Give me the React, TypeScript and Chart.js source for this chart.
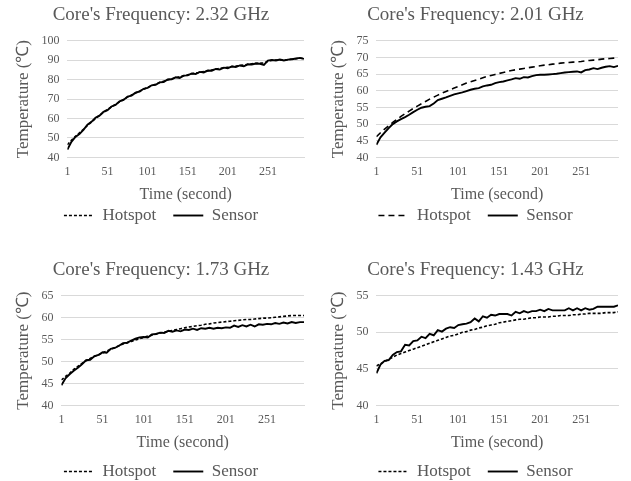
import React, { useEffect, useRef } from "react";
import { Chart, registerables } from "chart.js";
Chart.register(...registerables);

const TIME = [1, 6, 11, 16, 21, 26, 31, 36, 41, 46, 51, 56, 61, 66, 71, 76, 81, 86, 91, 96, 101, 106, 111, 116, 121, 126, 131, 136, 141, 146, 151, 156, 161, 166, 171, 176, 181, 186, 191, 196, 201, 206, 211, 216, 221, 226, 231, 236, 241, 246, 251, 256, 261, 266, 271, 276, 281, 286, 291, 296];
const X_TICKS = [1, 51, 101, 151, 201, 251];
const SERIES = ["Hotspot", "Sensor"];
const TITLES = ["Core's Frequency: 2.32 GHz", "Core's Frequency: 2.01 GHz", "Core's Frequency: 1.73 GHz", "Core's Frequency: 1.43 GHz"];
const X_TITLE = "Time (second)";
const Y_TITLE = "Temperature (℃)";

const HOT_232 = [46.5, 48.8, 50.8, 52.6, 54.5, 56.4, 58.2, 60.0, 61.6, 63.2, 64.7, 66.0, 67.3, 68.6, 69.8, 71.0, 72.1, 73.1, 74.1, 75.1, 76.0, 76.9, 77.7, 78.5, 79.2, 79.9, 80.5, 81.0, 81.5, 82.0, 82.5, 83.0, 83.4, 83.8, 84.2, 84.6, 85.0, 85.4, 85.8, 86.1, 86.4, 86.7, 87.0, 87.3, 87.6, 87.9, 88.2, 88.4, 88.5, 88.6, 89.5, 90.0, 90.1, 90.2, 90.1, 90.3, 90.6, 90.8, 91.0, 90.9];
const SEN_232 = [44.0, 48.0, 50.5, 52.0, 54.2, 56.8, 58.3, 60.4, 61.5, 63.4, 64.3, 66.2, 67.0, 68.9, 69.6, 71.3, 71.8, 73.3, 73.9, 75.3, 75.8, 77.1, 77.4, 78.6, 78.8, 80.1, 80.2, 81.2, 80.9, 82.1, 82.2, 83.2, 82.9, 84.0, 83.7, 84.7, 84.6, 85.5, 85.2, 86.2, 85.9, 86.8, 86.5, 87.3, 86.9, 87.9, 87.8, 88.3, 88.2, 87.6, 89.8, 90.1, 89.9, 90.4, 89.9, 90.3, 90.5, 90.9, 91.2, 90.7];

const HOT_201 = [46.2, 47.4, 48.5, 49.5, 50.5, 51.4, 52.3, 53.1, 53.9, 54.7, 55.4, 56.1, 56.8, 57.5, 58.1, 58.7, 59.3, 59.8, 60.3, 60.8, 61.3, 61.8, 62.3, 62.7, 63.1, 63.5, 63.9, 64.3, 64.6, 64.9, 65.2, 65.5, 65.8, 66.1, 66.3, 66.5, 66.7, 66.9, 67.1, 67.3, 67.5, 67.7, 67.8, 68.0, 68.1, 68.3, 68.4, 68.5, 68.6, 68.7, 68.8, 69.0, 69.1, 69.2, 69.3, 69.5, 69.6, 69.7, 69.8, 69.9];
const SEN_201 = [43.8, 46.0, 47.4, 48.8, 50.0, 50.8, 51.5, 52.1, 52.8, 53.6, 54.3, 54.9, 55.2, 55.4, 56.2, 57.2, 57.6, 58.0, 58.5, 58.9, 59.2, 59.5, 59.9, 60.3, 60.6, 60.8, 61.3, 61.6, 61.8, 62.3, 62.6, 62.8, 63.1, 63.4, 63.8, 63.6, 64.1, 64.0, 64.4, 64.7, 64.8, 64.8, 64.9, 65.0, 65.1, 65.3, 65.5, 65.6, 65.7, 65.8, 65.5, 66.2, 66.4, 66.8, 66.5, 66.9, 67.2, 67.4, 67.1, 67.5];

const HOT_173 = [45.8, 46.6, 47.3, 48.2, 48.9, 49.6, 50.2, 50.7, 51.2, 51.5, 52.0, 52.4, 52.8, 53.2, 53.6, 54.0, 54.3, 54.6, 54.9, 55.2, 55.5, 55.8, 56.0, 56.3, 56.5, 56.7, 56.9, 57.1, 57.3, 57.5, 57.7, 57.9, 58.0, 58.2, 58.3, 58.5, 58.6, 58.8, 58.9, 59.0, 59.1, 59.2, 59.3, 59.4, 59.5, 59.6, 59.6, 59.7, 59.8, 59.9, 59.9, 60.0, 60.1, 60.2, 60.3, 60.4, 60.5, 60.5, 60.5, 60.5];
const SEN_173 = [44.6, 46.2, 47.1, 47.9, 48.6, 49.4, 50.3, 50.4, 51.2, 51.5, 52.1, 52.0, 52.9, 53.1, 53.6, 54.2, 54.3, 54.8, 55.2, 55.5, 55.6, 55.5, 56.2, 56.3, 56.6, 56.5, 57.0, 56.8, 57.1, 56.9, 57.3, 57.2, 57.5, 57.2, 57.6, 57.5, 57.7, 57.5, 57.7, 57.6, 57.8, 57.7, 58.2, 57.9, 58.3, 58.0, 58.4, 58.0, 58.5, 58.4, 58.6, 58.5, 58.8, 58.6, 58.9, 58.7, 59.0, 58.8, 59.0, 59.0];

const HOT_143 = [45.4, 45.7, 46.0, 46.3, 46.6, 46.9, 47.1, 47.3, 47.5, 47.7, 47.9, 48.1, 48.3, 48.5, 48.7, 48.9, 49.1, 49.3, 49.5, 49.6, 49.8, 50.0, 50.1, 50.3, 50.4, 50.6, 50.7, 50.9, 51.0, 51.1, 51.3, 51.4, 51.5, 51.6, 51.7, 51.8, 51.8, 51.9, 52.0, 52.0, 52.1, 52.1, 52.1, 52.2, 52.2, 52.3, 52.3, 52.3, 52.4, 52.4, 52.5, 52.5, 52.6, 52.6, 52.6, 52.6, 52.7, 52.7, 52.7, 52.8];
const SEN_143 = [44.4, 45.6, 46.1, 46.2, 46.9, 47.3, 47.4, 48.3, 48.2, 48.8, 48.9, 49.4, 49.2, 49.8, 49.6, 50.3, 50.1, 50.5, 50.7, 50.6, 51.0, 51.1, 51.2, 51.4, 51.9, 51.5, 52.2, 52.0, 52.4, 52.3, 52.5, 52.5, 52.5, 52.3, 52.8, 52.6, 52.9, 52.7, 52.9, 52.9, 53.1, 52.9, 53.2, 53.0, 53.0, 53.0, 53.0, 53.3, 53.0, 53.3, 53.0, 53.3, 53.1, 53.2, 53.5, 53.5, 53.5, 53.5, 53.5, 53.7];

const Y_MIN = [40, 40, 40, 40];
const Y_MAX = [100, 75, 65, 55];
const Y_STEP = [10, 5, 5, 5];

const FONT = "'Liberation Serif', 'Times New Roman', serif";
const TEXT = "#595959";
const GRID = "#d9d9d9";

type PanelProps = {
  left: number; top: number; width: number; height: number;
  title: string; hot: number[]; sen: number[];
  yMin: number; yMax: number; yStep: number; dash: number[];
  pad: { left: number; right: number; top: number; bottom: number };
  titleBottom: number; xTitleBottom: number;
};

function Panel(p: PanelProps) {
  const ref = useRef<HTMLCanvasElement>(null);
  useEffect(() => {
    const chart = new Chart(ref.current as HTMLCanvasElement, {
      type: "line",
      data: {
        datasets: [
          {
            label: SERIES[0],
            data: TIME.map((t, i) => ({ x: t, y: p.hot[i] })),
            borderColor: "#000",
            backgroundColor: "#000",
            borderWidth: 1.6,
            borderDash: p.dash,
            pointRadius: 0,
            pointStyle: "line",
            tension: 0,
          },
          {
            label: SERIES[1],
            data: TIME.map((t, i) => ({ x: t, y: p.sen[i] })),
            borderColor: "#000",
            backgroundColor: "#000",
            borderWidth: 1.9,
            pointRadius: 0,
            pointStyle: "line",
            tension: 0,
          },
        ],
      },
      options: {
        responsive: false,
        animation: false,
        devicePixelRatio: 1,
        layout: { padding: p.pad },
        plugins: {
          title: {
            display: true,
            text: p.title,
            color: TEXT,
            font: { family: FONT, size: 19, weight: "normal" },
            padding: { top: 0, bottom: p.titleBottom },
          },
          legend: {
            position: "bottom",
            labels: {
              usePointStyle: true,
              pointStyleWidth: 30,
              color: TEXT,
              font: { family: FONT, size: 17 },
              padding: 17,
              generateLabels: (c: any) => {
                const items = Chart.defaults.plugins.legend.labels.generateLabels(c);
                return items.map((it: any) => {
                  const ds: any = c.data.datasets[it.datasetIndex];
                  return { ...it, lineDash: ds.borderDash || [], lineWidth: ds.borderWidth, strokeStyle: "#000", pointStyle: "line" };
                });
              },
            },
          },
          tooltip: { enabled: false },
        },
        scales: {
          x: {
            type: "linear",
            min: 1,
            max: 296,
            afterBuildTicks: (s: any) => {
              s.ticks = X_TICKS.map((v) => ({ value: v }));
            },
            grid: { display: false, drawTicks: false },
            border: { display: true, color: GRID },
            ticks: {
              color: TEXT,
              font: { family: FONT, size: 12 },
              padding: 7,
              maxRotation: 0,
              autoSkip: false,
              callback: (v: any) => String(v),
            },
            title: {
              display: true,
              text: X_TITLE,
              color: TEXT,
              font: { family: FONT, size: 16 },
              padding: { top: -1, bottom: p.xTitleBottom },
            },
          },
          y: {
            min: p.yMin,
            max: p.yMax,
            ticks: {
              stepSize: p.yStep,
              autoSkip: false,
              color: TEXT,
              font: { family: FONT, size: 12 },
              padding: 8,
            },
            grid: { color: GRID, drawTicks: false },
            border: { display: false },
            title: {
              display: true,
              text: Y_TITLE,
              color: TEXT,
              font: { family: FONT, size: 17 },
              padding: { top: -5, bottom: 0 },
            },
          },
        },
      },
    } as any);
    return () => chart.destroy();
  }, []);
  return (
    <canvas
      ref={ref}
      width={p.width}
      height={p.height}
      style={{ position: "absolute", left: p.left, top: p.top, width: p.width, height: p.height }}
    />
  );
}

export default function App() {
  return (
    <div style={{ position: "fixed", left: 0, top: 0, width: 631, height: 481, background: "#fff", overflow: "hidden" }}>
      <Panel left={0} top={0} width={315} height={240} title={TITLES[0]} hot={HOT_232} sen={SEN_232}
        yMin={Y_MIN[0]} yMax={Y_MAX[0]} yStep={Y_STEP[0]} dash={[3, 2]}
        pad={{ left: 18, right: 11, top: 4, bottom: 6 }} titleBottom={14} xTitleBottom={-14} />
      <Panel left={315} top={0} width={316} height={240} title={TITLES[1]} hot={HOT_201} sen={SEN_201}
        yMin={Y_MIN[1]} yMax={Y_MAX[1]} yStep={Y_STEP[1]} dash={[6, 4]}
        pad={{ left: 18, right: 13, top: 4, bottom: 6 }} titleBottom={14} xTitleBottom={-14} />
      <Panel left={0} top={250} width={315} height={240} title={TITLES[2]} hot={HOT_173} sen={SEN_173}
        yMin={Y_MIN[2]} yMax={Y_MAX[2]} yStep={Y_STEP[2]} dash={[3, 2]}
        pad={{ left: 18, right: 11, top: 9, bottom: 0 }} titleBottom={14} xTitleBottom={-6} />
      <Panel left={315} top={250} width={316} height={240} title={TITLES[3]} hot={HOT_143} sen={SEN_143}
        yMin={Y_MIN[3]} yMax={Y_MAX[3]} yStep={Y_STEP[3]} dash={[3, 2]}
        pad={{ left: 18, right: 13, top: 9, bottom: 0 }} titleBottom={14} xTitleBottom={-6} />
    </div>
  );
}
